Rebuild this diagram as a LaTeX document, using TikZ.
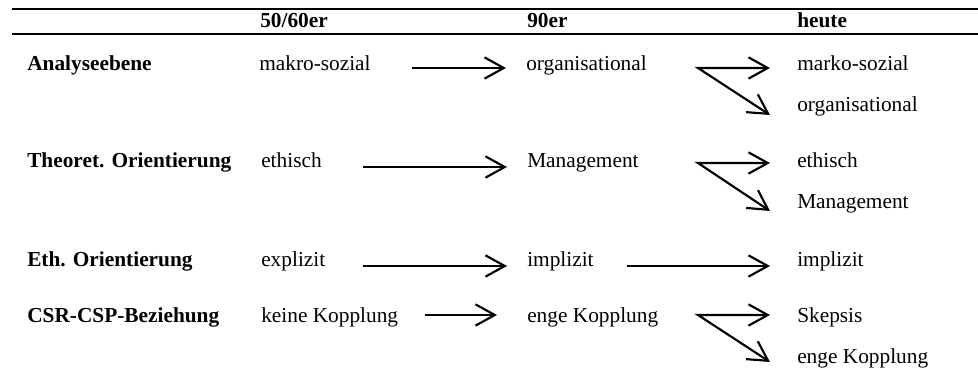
\documentclass[tikz,border=0pt]{standalone}
\usepackage{fontspec}
\setmainfont{Liberation Serif}
\usetikzlibrary{arrows.meta}

\begin{document}
\begin{tikzpicture}[x=0.75pt,y=-0.75pt,
  font=\fontsize{16}{19}\selectfont,
  txt/.style={anchor=base west,inner sep=0pt},
  hd/.style={txt,font=\fontsize{16}{19}\selectfont\bfseries},
  linie/.style={line width=2pt},
  pfeil/.style={line width=1.6pt,-{Straight Barb[length=14.5pt,width=16pt]}},
  gabel/.style={line width=1.6pt,{Straight Barb[length=14.5pt,width=16pt]}-{Straight Barb[length=14.5pt,width=16pt]}}]
  \useasboundingbox (0,0) rectangle (978,378);
  \coordinate (o1) at (12,9);  \coordinate (o2) at (978,9);
  \coordinate (u1) at (12,34); \coordinate (u2) at (978,34);
  \draw[linie] (o1) -- (o2);
  \draw[linie] (u1) -- (u2);

  \node[hd] (kopf1) at (260,28) {50/60er};
  \node[hd] (kopf2) at (527,28) {90er};
  \node[hd] (kopf3) at (797,28) {heute};

  \node[hd]  (ebene)   at (27,71)   {Analyseebene};
  \node[txt] (ebene1)  at (259,71)  {makro-sozial};
  \node[txt] (ebene2)  at (526,71)  {organisational};
  \node[txt] (ebene3a) at (797,71)  {marko-sozial};
  \node[txt] (ebene3b) at (797,112) {organisational};

  \node[hd]  (theorie)   at (27,167)  {Theoret. Orientierung};
  \node[txt] (theorie1)  at (261,167) {ethisch};
  \node[txt] (theorie2)  at (527,167) {Management};
  \node[txt] (theorie3a) at (797,167) {ethisch};
  \node[txt] (theorie3b) at (797,208) {Management};

  \node[hd]  (ethik)  at (27,266)  {Eth. Orientierung};
  \node[txt] (ethik1) at (261,266) {explizit};
  \node[txt] (ethik2) at (527,266) {implizit};
  \node[txt] (ethik3) at (797,266) {implizit};

  \node[hd]  (csr)   at (27,322)  {CSR-CSP-Beziehung};
  \node[txt] (csr1)  at (261,322) {keine Kopplung};
  \node[txt] (csr2)  at (527,322) {enge Kopplung};
  \node[txt] (csr3a) at (797,322) {Skepsis};
  \node[txt] (csr3b) at (797,363) {enge Kopplung};

  \coordinate (p1a) at (412,68);  \coordinate (p1b) at (506,68);
  \coordinate (g1)  at (698,68);  \coordinate (g1o) at (770,68);  \coordinate (g1u) at (770,115);
  \coordinate (p2a) at (363,167); \coordinate (p2b) at (507,167);
  \coordinate (g2)  at (698,163); \coordinate (g2o) at (770,163); \coordinate (g2u) at (770,211);
  \coordinate (p3a) at (363,266); \coordinate (p3b) at (507,266);
  \coordinate (q3a) at (627,266); \coordinate (q3b) at (770,266);
  \coordinate (p4a) at (425,315); \coordinate (p4b) at (497,315);
  \coordinate (g4)  at (698,315); \coordinate (g4o) at (770,315); \coordinate (g4u) at (770,362);

  \draw[pfeil] (p1a) -- (p1b);
  \draw[gabel] (g1o) -- (g1) -- (g1u);
  \draw[pfeil] (p2a) -- (p2b);
  \draw[gabel] (g2o) -- (g2) -- (g2u);
  \draw[pfeil] (p3a) -- (p3b);
  \draw[pfeil] (q3a) -- (q3b);
  \draw[pfeil] (p4a) -- (p4b);
  \draw[gabel] (g4o) -- (g4) -- (g4u);
\end{tikzpicture}
\end{document}
